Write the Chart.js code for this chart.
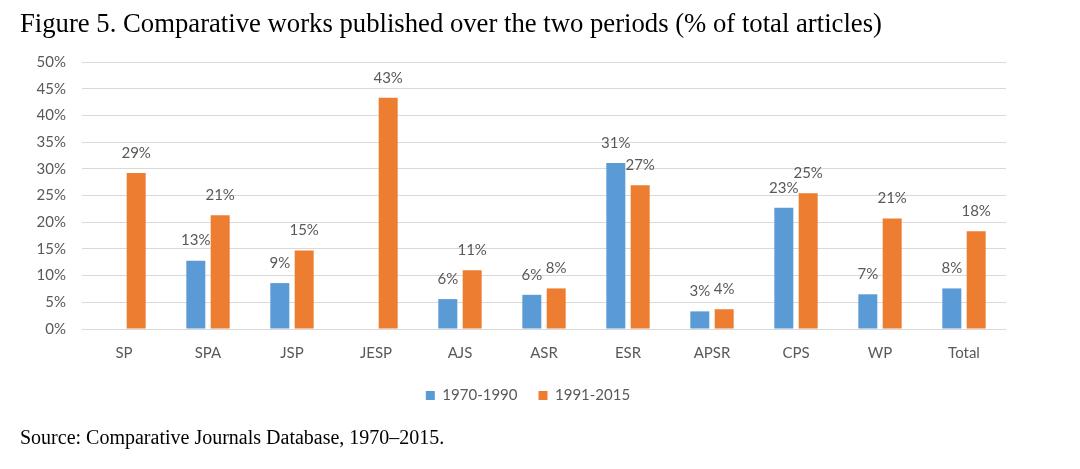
<!DOCTYPE html>
<html>
<head>
<meta charset="utf-8">
<script src="https://cdn.jsdelivr.net/npm/chart.js@4"></script>
<style>
    body { margin: 0; background: #fff; }
    #wrap { position: relative; width: 1080px; height: 469px; }
    #title { position: absolute; left: 20px; top: 8px; font-family: "Liberation Serif", serif; font-size: 26.7px; color: #000; white-space: nowrap; }
    #source { position: absolute; left: 20px; top: 426px; font-family: "Liberation Serif", serif; font-size: 20px; color: #000; white-space: nowrap; }
    canvas { position: absolute; left: 0; top: 0; }
</style>
</head>
<body>
<div id="wrap">
    <canvas id="chart" width="1080" height="469"></canvas>
    <div id="title">Figure 5. Comparative works published over the two periods (% of total articles)</div>
    <div id="source">Source: Comparative Journals Database, 1970–2015.</div>
</div>
<script>
const journals = ['SP', 'SPA', 'JSP', 'JESP', 'AJS', 'ASR', 'ESR', 'APSR', 'CPS', 'WP', 'Total'];
const period1 = [null, 12.8, 8.6, null, 5.6, 6.4, 31.1, 3.3, 22.7, 6.5, 7.6];
const period2 = [29.2, 21.3, 14.7, 43.3, 11.0, 7.6, 26.9, 3.7, 25.4, 20.7, 18.3];
const yTicks = [0, 5, 10, 15, 20, 25, 30, 35, 40, 45, 50];

const textGray = '#595959';
const font = 'Lato';

// value labels above each bar
const barLabels = {
    id: 'barLabels',
    afterDatasetsDraw(chart) {
        const ctx = chart.ctx;
        ctx.save();
        ctx.font = '15px ' + font;
        ctx.fillStyle = textGray;
        ctx.textAlign = 'center';
        ctx.textBaseline = 'middle';
        chart.data.datasets.forEach((ds, i) => {
            chart.getDatasetMeta(i).data.forEach((bar, j) => {
                const v = ds.data[j];
                if (v === null) return;
                ctx.fillText(Math.round(v) + '%', bar.x, bar.y - 20);
            });
        });
        ctx.restore();
    }
};

new Chart(document.getElementById('chart'), {
    type: 'bar',
    data: {
        labels: journals,
        datasets: [
            { label: '1970-1990', data: period1, backgroundColor: '#5B9BD5', barPercentage: 0.78, categoryPercentage: 0.58 },
            { label: '1991-2015', data: period2, backgroundColor: '#ED7D31', barPercentage: 0.78, categoryPercentage: 0.58 }
        ]
    },
    options: {
        responsive: false,
        animation: false,
        layout: { padding: { top: 62, right: 24, bottom: 56, left: 0 } },
        plugins: {
            tooltip: { enabled: false },
            legend: {
                position: 'bottom',
                labels: { boxWidth: 9, boxHeight: 9, color: textGray, font: { family: font, size: 15 }, padding: 21 }
            }
        },
        scales: {
            x: {
                grid: { display: false },
                border: { display: false },
                ticks: { color: textGray, font: { family: font, size: 15 }, padding: 7 },
                afterFit(scale) { scale.height = 38; }
            },
            y: {
                min: 0,
                max: 50,
                afterBuildTicks(scale) { scale.ticks = yTicks.map(v => ({ value: v })); },
                grid: { color: '#d9d9d9', drawTicks: false },
                border: { display: false },
                ticks: { color: textGray, font: { family: font, size: 15 }, padding: 16, callback: v => v + '%' },
                afterFit(scale) { scale.width = 82; }
            },
            // empty right-hand space so the legend centres like the original
            spacer: {
                type: 'linear',
                position: 'right',
                grid: { display: false },
                border: { display: false },
                ticks: { display: false },
                afterFit(scale) { scale.width = 50; }
            }
        }
    },
    plugins: [barLabels]
});
</script>
</body>
</html>
